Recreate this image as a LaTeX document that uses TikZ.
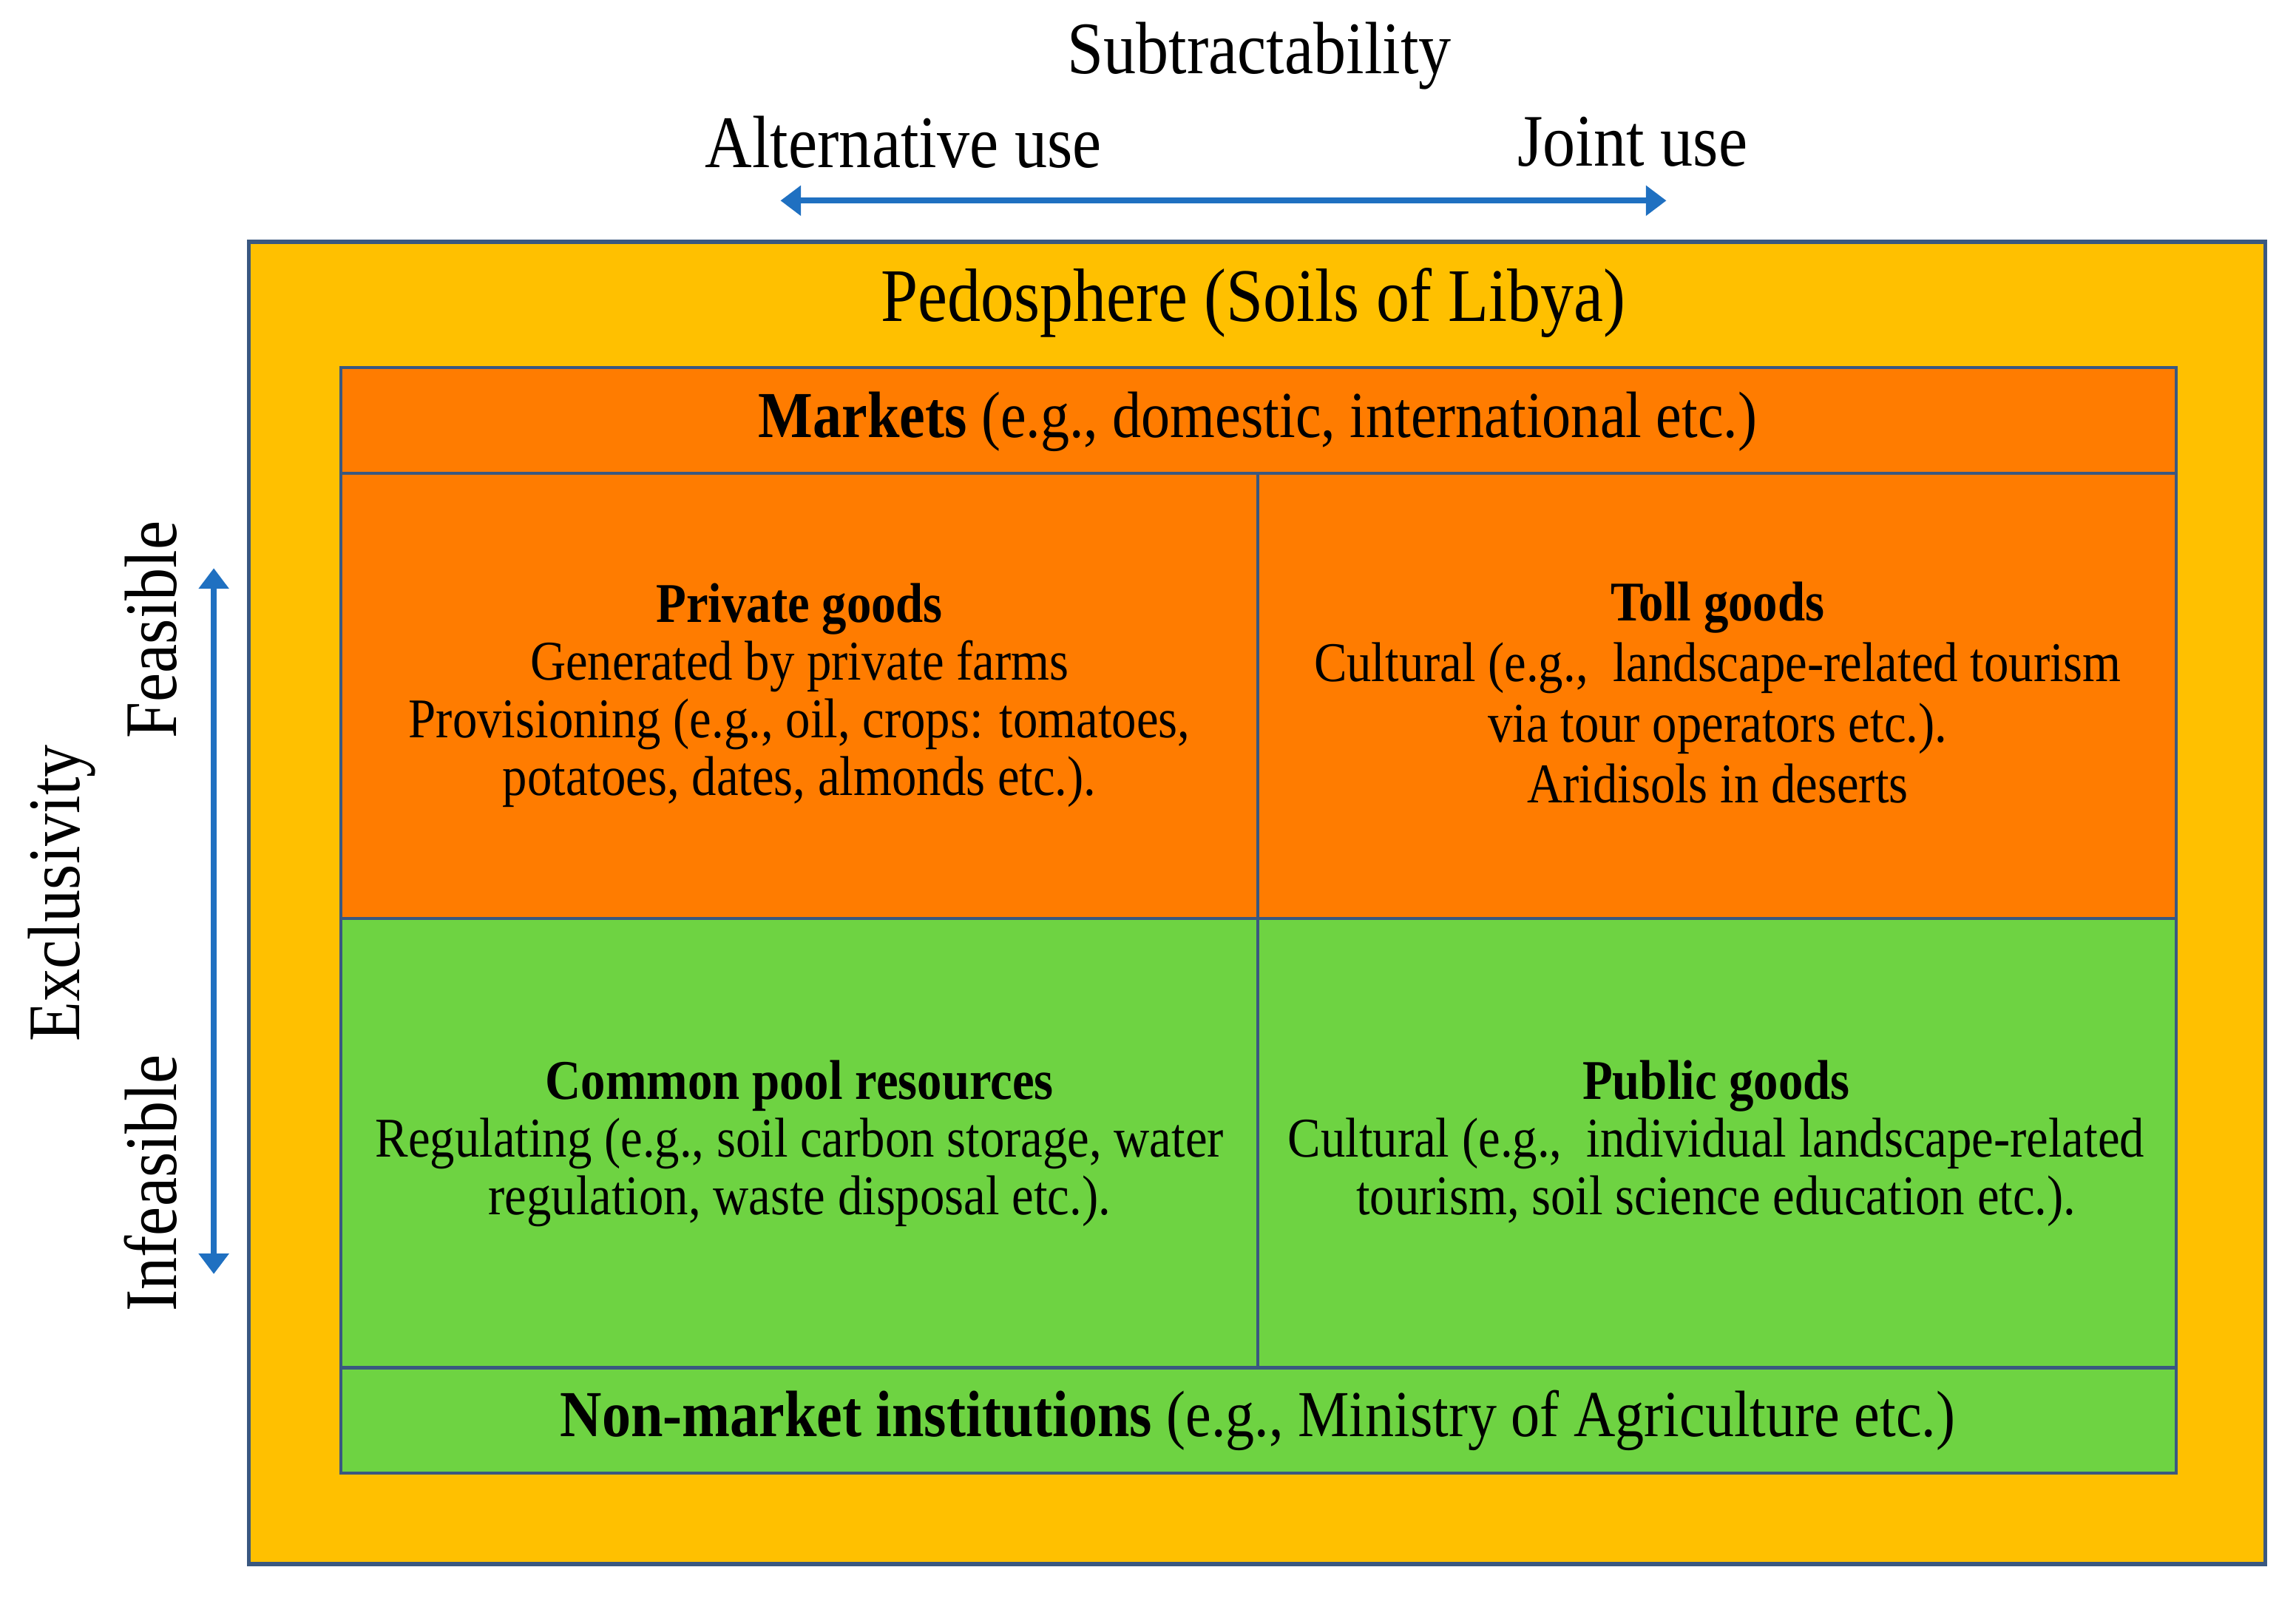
\documentclass[tikz,border=0pt]{standalone}
\usepackage{fontspec}
\setmainfont{Liberation Serif}[FakeStretch=0.88]
\usetikzlibrary{arrows.meta}
\definecolor{ylw}{RGB}{255,192,0}
\definecolor{org}{RGB}{255,124,0}
\definecolor{grn}{RGB}{110,211,66}
\definecolor{edgeblue}{RGB}{58,88,128}
\definecolor{arrblue}{RGB}{31,112,193}
\tikzset{
  cellbox/.style={draw=edgeblue, line width=1.2pt},
  bigtxt/.style={font=\fontsize{28.8}{32}\selectfont, inner sep=0pt},
  rowtxt/.style={font=\fontsize{25.5}{30}\selectfont, inner sep=0pt},
  celltxt/.style={font=\fontsize{21.8}{22.4}\selectfont, align=center, inner sep=0pt},
  biarrow/.style={draw=arrblue, line width=2.4pt, {Triangle[width=0.4cm,length=0.28cm]}-{Triangle[width=0.4cm,length=0.28cm]}}
}
\begin{document}
\begin{tikzpicture}[x=0.02cm,y=-0.02cm]
\useasboundingbox (0,0) rectangle (1568,1095);
% outer box
\draw[fill=ylw, draw=edgeblue, line width=1.6pt] (170,165) rectangle (1547,1068);
% rows and cells
\draw[cellbox, fill=org] (233,251) rectangle (1486,323);
\draw[cellbox, fill=org] (233,323) rectangle (859,627);
\draw[cellbox, fill=org] (859,323) rectangle (1486,627);
\draw[cellbox, fill=grn] (233,627) rectangle (859,934);
\draw[cellbox, fill=grn] (859,627) rectangle (1486,934);
\draw[cellbox, fill=grn] (233,934) rectangle (1486,1006);
% texts
\node[bigtxt] (subtr) at (860,38) {Subtractability};
\node[bigtxt] (alt) at (617,97) {Alternative use};
\node[bigtxt] (joint) at (1115,97) {Joint use};
\node[bigtxt, font=\fontsize{29.4}{32}\selectfont] (pedo) at (856,207) {Pedosphere (Soils of Libya)};
\node[rowtxt] (markets) at (859,288) {\textbf{Markets} (e.g., domestic, international etc.)};
\node[rowtxt] (nonmarket) at (859,970) {\textbf{Non-market institutions} (e.g., Ministry of Agriculture etc.)};
\node[celltxt] (private) at (546,475) {\textbf{Private goods}\\Generated by private farms\\Provisioning (e.g., oil, crops: tomatoes,\\potatoes, dates, almonds etc.).};
\node[celltxt, font=\fontsize{21.8}{23.6}\selectfont] (toll) at (1173,473) {\textbf{Toll goods}\\Cultural (e.g.,\ \ landscape-related tourism\\via tour operators etc.).\\Aridisols in deserts};
\node[celltxt] (common) at (546,781) {\textbf{Common pool resources}\\Regulating (e.g., soil carbon storage, water\\regulation, waste disposal etc.).};
\node[celltxt] (public) at (1172,781) {\textbf{Public goods}\\Cultural (e.g.,\ \ individual landscape-related\\tourism, soil science education etc.).};
% vertical labels
\node[bigtxt, rotate=90] (excl) at (42,610) {Exclusivity};
\node[bigtxt, rotate=90] (feas) at (103,430) {Feasible};
\node[bigtxt, rotate=90] (infeas) at (103,808) {Infeasible};
% arrows
\coordinate (hl) at (533,137);
\coordinate (hr) at (1138,137);
\draw[biarrow] (hl) -- (hr);
\coordinate (vt) at (146,388);
\coordinate (vb) at (146,870);
\draw[biarrow] (vt) -- (vb);
\end{tikzpicture}
\end{document}
